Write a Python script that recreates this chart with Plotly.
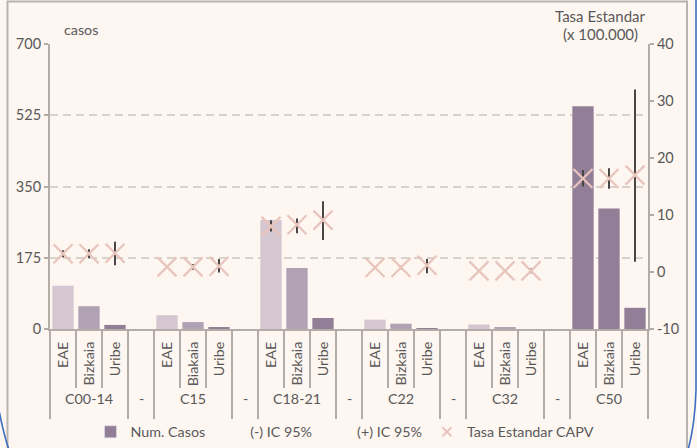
import plotly.graph_objects as go

# ---------------- data ----------------
groups = ["C00-14", "C15", "C18-21", "C22", "C32", "C50"]
sub_labels = [
    ["EAE", "Bizkaia", "Uribe"],
    ["EAE", "Biakaia", "Uribe"],
    ["EAE", "Bizkaia", "Uribe"],
    ["EAE", "Bizkaia", "Uribe"],
    ["EAE", "Bizkaia", "Uribe"],
    ["EAE", "Bizkaia", "Uribe"],
]
separator_label = "-"

num_casos = [
    [106, 56, 10],
    [34, 17, 3],
    [268, 150, 27],
    [23, 13, 2],
    [11, 4, 0],
    [547, 296, 52],
]
tasa = [
    [3.2, 3.2, 3.3],
    [0.9, 0.9, 1.0],
    [8.0, 8.3, 9.1],
    [0.8, 0.8, 1.2],
    [0.2, 0.2, 0.2],
    [16.4, 16.4, 17.0],
]
ic_low = [
    [2.6, 2.4, 1.2],
    [0.7, 0.4, -0.1],
    [7.1, 6.8, 5.6],
    [0.7, 0.5, -0.2],
    [0.1, 0.1, -0.2],
    [15.0, 14.6, 1.8],
]
ic_high = [
    [3.8, 4.0, 5.3],
    [1.1, 1.4, 2.3],
    [9.1, 9.4, 12.4],
    [0.9, 1.1, 2.3],
    [0.3, 0.3, 0.6],
    [17.9, 18.2, 32.0],
]
bar_colors_group = [
    ["#d4c7d1", "#b1a1b4", "#937e98"],
    ["#d4c7d1", "#b1a1b4", "#937e98"],
    ["#d4c7d1", "#b1a1b4", "#937e98"],
    ["#d4c7d1", "#b1a1b4", "#937e98"],
    ["#d4c7d1", "#b1a1b4", "#937e98"],
    ["#937e98", "#937e98", "#937e98"],
]
left_ticks = [0, 175, 350, 525, 700]
right_ticks = [-10, 0, 10, 20, 30, 40]

# -------- flatten into slots (3 per group + 1 separator slot) --------
xs, tick_text, bars, bcols, t_vals, lo_vals, hi_vals = [], [], [], [], [], [], []
group_centers, group_bounds, sub_bounds = [], [], []
pos = 0
for gi, g in enumerate(groups):
    if gi > 0:
        group_bounds.append(pos - 0.5)
        xs.append(pos); tick_text.append("")
        bars.append(None); bcols.append("#937e98")
        t_vals.append(None); lo_vals.append(None); hi_vals.append(None)
        pos += 1
    group_bounds.append(pos - 0.5)
    start = pos
    for si in range(3):
        xs.append(pos); tick_text.append(sub_labels[gi][si])
        bars.append(num_casos[gi][si]); bcols.append(bar_colors_group[gi][si])
        t_vals.append(tasa[gi][si]); lo_vals.append(ic_low[gi][si]); hi_vals.append(ic_high[gi][si])
        if si > 0:
            sub_bounds.append(pos - 0.5)
        pos += 1
    group_centers.append((start + pos - 1) / 2)
group_bounds.append(pos - 0.5)
sep_centers = [c + 2 for c in group_centers[:-1]]

err_plus = [None if t is None else h - t for t, h in zip(t_vals, hi_vals)]
err_minus = [None if t is None else t - l for t, l in zip(t_vals, lo_vals)]

# ---------------- figure ----------------
W, H = 697, 448
PL, PR, PT, PB = 50, 648, 44, 329
FONT = "Lato"
TXT = "#595959"
AXC = "#b3aca7"
BG = "#fdf6f1"
DARK = "#937e98"
XCOL = "#e8c4bc"
FS = 14.3


def px(xp):
    return (xp - PL) / (PR - PL)


def py(yp):
    return (PB - yp) / (PB - PT)


fig = go.Figure()
# actual marks
fig.add_trace(go.Bar(
    x=xs, y=bars, name="Num. Casos", marker=dict(color=bcols, line=dict(width=0)),
    width=0.82, yaxis="y", xaxis="x", showlegend=False,
))
fig.add_trace(go.Scatter(
    x=xs, y=t_vals, name="Tasa Estandar CAPV", mode="markers", yaxis="y2",
    marker=dict(symbol="x-thin", size=19, color=XCOL, line=dict(width=2.2, color=XCOL)),
    error_y=dict(type="data", symmetric=False, array=err_plus, arrayminus=err_minus,
                 color="#4a4646", thickness=2, width=0),
    showlegend=False,
))
# legend entries
fig.add_trace(go.Bar(x=[None], y=[None], name="Num. Casos", marker=dict(color=DARK),
                     yaxis="y", hoverinfo="skip"))
fig.add_trace(go.Scatter(
    x=xs, y=lo_vals, name="(-) IC 95%", mode="markers",
    marker=dict(size=6, opacity=0, color=BG), yaxis="y2", hoverinfo="skip",
))
fig.add_trace(go.Scatter(
    x=xs, y=hi_vals, name="(+) IC 95%", mode="markers",
    marker=dict(size=6, opacity=0, color=BG), yaxis="y2", hoverinfo="skip",
))
fig.add_trace(go.Scatter(
    x=[None], y=[None], name="Tasa Estandar CAPV", mode="markers", yaxis="y2",
    marker=dict(symbol="x-thin", size=9, color=XCOL, line=dict(width=2, color=XCOL)),
    hoverinfo="skip",
))
# helper traces for the separator axes
fig.add_trace(go.Scatter(x=[None], y=[None], xaxis="x2", yaxis="y",
                         showlegend=False, hoverinfo="skip"))
fig.add_trace(go.Scatter(x=[None], y=[None], xaxis="x3", yaxis="y",
                         showlegend=False, hoverinfo="skip"))

lab_font = dict(family=FONT, size=FS, color=TXT)
annotations = []
for c, g in zip(group_centers, groups):
    annotations.append(dict(x=c, y=py(398), xref="x", yref="paper", text=g,
                            xanchor="center", yanchor="middle",
                            showarrow=False, font=lab_font))
for c in sep_centers:
    annotations.append(dict(x=c, y=py(398), xref="x", yref="paper", text=separator_label,
                            xanchor="center", yanchor="middle",
                            showarrow=False, font=lab_font))
annotations += [
    dict(x=px(81), y=py(29), xref="paper", yref="paper", text="casos", showarrow=False,
         xanchor="center", yanchor="middle", font=lab_font),
    dict(x=px(600), y=py(16), xref="paper", yref="paper", text="Tasa Estandar",
         xanchor="center", yanchor="middle",
         showarrow=False, font=dict(family=FONT, size=15, color=TXT)),
    dict(x=px(600), y=py(34), xref="paper", yref="paper", text="(x 100.000)",
         xanchor="center", yanchor="middle",
         showarrow=False, font=dict(family=FONT, size=15, color=TXT)),
]

shapes = [
    dict(type="path", xref="paper", yref="paper",
         path=f"M {px(7.5)},{py(460)} L {px(7.5)},{py(1.5)} L {px(687)},{py(1.5)} L {px(687)},{py(460)}",
         line=dict(color="#b9b3ae", width=2)),
    dict(type="path", xref="paper", yref="paper",
         path=f"M {px(-2)},{py(405)} Q {px(3)},{py(432)} {px(9)},{py(450)}",
         line=dict(color="#3d6fc0", width=1.6)),
    dict(type="path", xref="paper", yref="paper",
         path=f"M {px(696)},{py(-2)} L {px(696)},{py(390)} Q {px(695)},{py(425)} {px(688)},{py(450)}",
         line=dict(color="#3d6fc0", width=1.6)),
]

sep_axis = dict(range=[-0.5, pos - 0.5], overlaying="x", anchor="y", side="bottom",
                tickmode="array", ticks="outside", tickwidth=2, tickcolor=AXC,
                showticklabels=False, showgrid=False, zeroline=False, showline=False)

fig.update_layout(
    width=W, height=H,
    margin=dict(l=PL, r=W - PR, t=PT, b=H - PB, autoexpand=False),
    paper_bgcolor=BG, plot_bgcolor=BG,
    font=dict(family=FONT, size=FS, color=TXT),
    showlegend=True,
    legend=dict(orientation="h", x=px(345), y=py(432), xanchor="center", yanchor="middle",
                bgcolor="rgba(0,0,0,0)", font=dict(family=FONT, size=FS, color=TXT),
                itemwidth=30, tracegroupgap=0),
    bargap=0.18,
    xaxis=dict(range=[-0.5, pos - 0.5], tickmode="array", tickvals=xs, ticktext=tick_text,
               tickangle=-90, ticks="", showgrid=False, zeroline=False,
               showline=True, linecolor=AXC, linewidth=2,
               tickfont=lab_font, ticklabelstandoff=5),
    xaxis2=dict(sep_axis, tickvals=group_bounds, ticklen=89),
    xaxis3=dict(sep_axis, tickvals=sub_bounds, ticklen=58),
    yaxis=dict(range=[0, 700], tickmode="array", tickvals=left_ticks, ticks="outside",
               ticklen=4, tickwidth=2, tickcolor=AXC, showline=True, linecolor=AXC,
               linewidth=2, showgrid=True, gridcolor="#d8d2cd", gridwidth=2,
               griddash="8px,5px", zeroline=False,
               tickfont=dict(family=FONT, size=14.5, color=TXT)),
    yaxis2=dict(range=[-10, 40], tickmode="array", tickvals=right_ticks,
                ticktext=[str(v) for v in right_ticks], overlaying="y",
                side="right", ticks="outside", ticklen=4, tickwidth=2, tickcolor=AXC,
                showline=True, linecolor=AXC, linewidth=2, showgrid=False, zeroline=False,
                tickfont=dict(family=FONT, size=14.5, color=TXT)),
    annotations=annotations,
    shapes=shapes,
)

fig.write_html("out.html", config={"displayModeBar": False},
               post_script="document.body.style.margin='0px';")
